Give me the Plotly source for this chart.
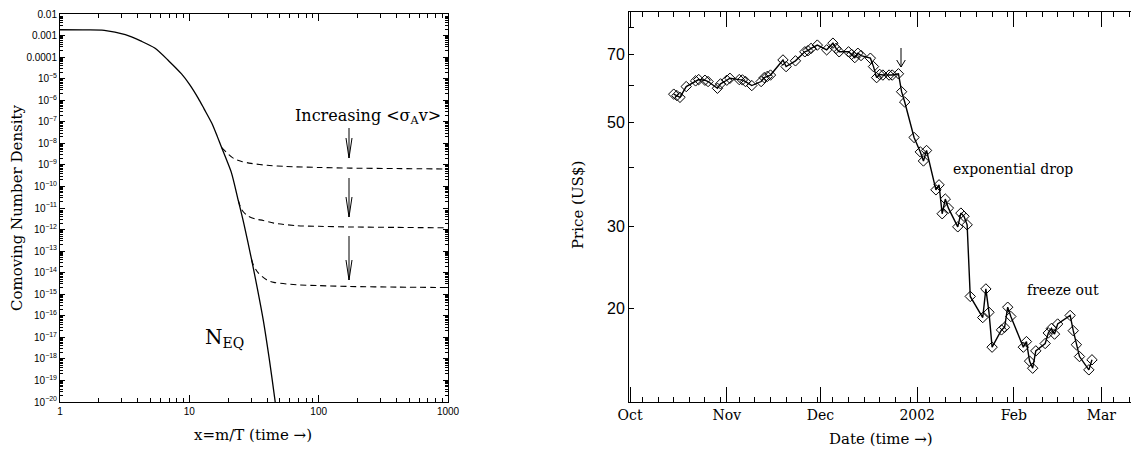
import plotly.graph_objects as go

W, H = 1131, 450

# ---------------- Left panel data (x = m/T, log10 of comoving number density) ----------------
x_neq = [1, 1.5, 2.2, 3.2, 4.2, 5.4, 7, 8.7, 10, 11.7, 13, 14.9, 16.5, 17.8, 19.5, 21.2,
         23.9, 26.5, 30.3, 33.5, 37.3, 41.5, 45.9, 47.5]
log_neq = [-2.73, -2.74, -2.76, -2.96, -3.25, -3.58, -4.2, -4.78, -5.25, -5.9, -6.4, -7.06,
           -7.7, -8.2, -8.8, -9.38, -10.65, -11.77, -13.4, -14.7, -16.2, -18.0, -19.9, -20.6]

x_fo1 = [17.8, 20, 22, 25.4, 30, 40, 54.8, 100, 175, 400, 1000]
log_fo1 = [-8.2, -8.5, -8.7, -8.84, -8.93, -9.02, -9.07, -9.12, -9.15, -9.17, -9.19]

x_fo2 = [23.9, 25.4, 28, 32, 37.3, 45, 67.5, 100, 174, 400, 1000]
log_fo2 = [-10.65, -11.08, -11.35, -11.5, -11.58, -11.7, -11.82, -11.85, -11.88, -11.9, -11.92]

x_fo3 = [30.3, 31.2, 34, 39.6, 45, 67.5, 100, 174, 400, 1000]
log_fo3 = [-13.4, -13.63, -14.0, -14.33, -14.45, -14.56, -14.6, -14.64, -14.67, -14.69]

left_xticks = [1, 10, 100, 1000]
left_xticktext = ["1", "10", "100", "1000"]
left_yexp = list(range(-2, -21, -1))

# ---------------- Right panel data (price in US$) ----------------
dates = ["2001-10-15", "2001-10-16", "2001-10-17", "2001-10-19", "2001-10-22", "2001-10-23",
         "2001-10-25", "2001-10-26", "2001-10-29", "2001-10-30", "2001-11-01", "2001-11-02",
         "2001-11-05", "2001-11-06", "2001-11-07", "2001-11-09", "2001-11-12", "2001-11-13",
         "2001-11-14", "2001-11-15", "2001-11-19", "2001-11-20", "2001-11-23", "2001-11-26",
         "2001-11-27", "2001-11-28", "2001-11-30", "2001-12-03", "2001-12-05", "2001-12-06",
         "2001-12-07", "2001-12-10", "2001-12-11", "2001-12-12", "2001-12-13", "2001-12-14",
         "2001-12-17", "2001-12-18", "2001-12-19", "2001-12-20", "2001-12-21", "2001-12-23",
         "2001-12-24", "2001-12-26", "2001-12-27", "2001-12-28", "2001-12-31", "2002-01-02",
         "2002-01-03", "2002-01-04", "2002-01-07", "2002-01-08", "2002-01-09", "2002-01-10",
         "2002-01-11", "2002-01-14", "2002-01-15", "2002-01-16", "2002-01-17", "2002-01-18",
         "2002-01-22", "2002-01-23", "2002-01-24", "2002-01-25", "2002-01-28", "2002-01-29",
         "2002-01-30", "2002-01-31", "2002-02-04", "2002-02-05", "2002-02-06", "2002-02-07",
         "2002-02-08", "2002-02-11", "2002-02-12", "2002-02-13", "2002-02-14", "2002-02-15",
         "2002-02-19", "2002-02-20", "2002-02-21", "2002-02-22", "2002-02-25", "2002-02-26"]
prices = [57.6, 57.2, 56.7, 59.8, 61.5, 61.9,
          61.7, 61.3, 59.3, 60.6, 61.7, 62.3,
          61.9, 61.8, 61.3, 60.1, 61.3, 62.5,
          62.9, 63.3, 68.2, 66.0, 67.9, 71.0,
          71.4, 72.2, 73.4, 71.7, 74.1, 72.2,
          71.0, 71.0, 70.1, 69.0, 70.5, 69.7,
          68.8, 66.0, 62.5, 63.5, 63.3, 63.3,
          63.3, 63.7, 58.3, 55.4, 46.5, 43.3,
          41.4, 43.6, 35.9, 36.8, 31.9, 34.3,
          32.8, 29.9, 32.0, 31.5, 30.2, 21.2,
          19.1, 22.0, 19.6, 16.5, 17.97, 18.2,
          20.1, 19.2, 16.5, 16.96, 15.4, 14.87,
          16.2, 16.8, 17.7, 18.1, 17.6, 18.5,
          19.3, 17.9, 16.7, 15.75, 14.75, 15.5]

month_ticks = ["2001-10-01", "2001-11-01", "2001-12-01", "2002-01-01", "2002-02-01", "2002-03-01"]
month_labels = ["Oct", "Nov", "Dec", "2002", "Feb", "Mar"]
price_ticks = [20, 30, 40, 50, 60, 70, 80]
price_labels = ["20", "30", "", "50", "", "70", ""]

# ---------------- helpers ----------------
def fx(p):
    return p / W


def fy(p):
    return 1 - p / H


SERIF = "DejaVu Serif"
SANS = "Liberation Sans"

fig = go.Figure()

fig.add_trace(go.Scatter(x=x_neq, y=[10 ** v for v in log_neq], mode="lines",
                         line=dict(color="black", width=1.3, shape="spline", smoothing=0.8),
                         xaxis="x", yaxis="y", showlegend=False, hoverinfo="skip"))
for xs, ls in [(x_fo1, log_fo1), (x_fo2, log_fo2), (x_fo3, log_fo3)]:
    fig.add_trace(go.Scatter(x=xs, y=[10 ** v for v in ls], mode="lines",
                             line=dict(color="black", width=1.1, dash="6px,4px",
                                       shape="spline", smoothing=0.8),
                             xaxis="x", yaxis="y", showlegend=False, hoverinfo="skip"))

fig.add_trace(go.Scatter(x=dates, y=prices, mode="lines+markers",
                         line=dict(color="black", width=1.4),
                         marker=dict(symbol="diamond-open", size=8, color="black",
                                     line=dict(width=1, color="black")),
                         xaxis="x2", yaxis="y2", showlegend=False))

# minor tick positions
left_xminor = [m * 10 ** k for k in range(0, 3) for m in range(2, 10)]
left_yminor = [m * 10.0 ** k for k in range(-20, -2) for m in range(2, 10)]
minor_dates = []
for ym in ["2001-10", "2001-11", "2001-12", "2002-01", "2002-02", "2002-03"]:
    for d in [5, 10, 15, 20, 25, 30]:
        if ym == "2002-02" and d == 30:
            continue
        minor_dates.append(f"{ym}-{d:02d}")

axis_common = dict(showgrid=False, zeroline=False, showline=True, linecolor="black",
                   linewidth=1, ticks="inside", tickcolor="black", automargin=False)

fig.update_layout(
    width=W, height=H, margin=dict(l=0, r=0, t=0, b=0, autoexpand=False),
    paper_bgcolor="white", plot_bgcolor="white",
    xaxis=dict(type="log", range=[0, 3], domain=[fx(60), fx(448)], anchor="y",
               tickmode="array", tickvals=left_xticks, ticktext=left_xticktext,
               ticklen=7, mirror="ticks",
               tickfont=dict(family=SANS, size=10, color="black"),
               minor=dict(tickmode="array", tickvals=left_xminor, ticks="inside",
                          ticklen=4, tickcolor="black"),
               **axis_common),
    yaxis=dict(type="log", range=[-20, -2], domain=[fy(402), fy(14)], anchor="x",
               tickmode="array", tickvals=[10.0 ** e for e in left_yexp],
               ticktext=["0.01", "0.001", "0.0001"] +
                        [f"10<sup>−{-e}</sup>" for e in left_yexp[3:]],
               ticklen=5, mirror="ticks",
               tickfont=dict(family=SANS, size=10, color="black"),
               minor=dict(tickmode="array", tickvals=left_yminor, ticks="inside",
                          ticklen=3, tickcolor="black"),
               **axis_common),
    xaxis2=dict(type="date", range=["2001-09-30 16:00", "2002-03-10 12:00"],
                domain=[fx(629), 1.0], anchor="y2",
                tickmode="array", tickvals=month_ticks, ticktext=month_labels,
                ticklen=15, mirror="ticks",
                tickfont=dict(family=SERIF, size=14, color="black"),
                minor=dict(tickmode="array", tickvals=minor_dates, ticks="inside",
                           ticklen=5, tickcolor="black"),
                **axis_common),
    yaxis2=dict(type="log", range=[1.0998, 1.9367], domain=[fy(402), fy(12)], anchor="x2",
                tickmode="array", tickvals=price_ticks, ticktext=price_labels,
                ticklen=5,
                tickfont=dict(family=SANS, size=16, color="black"),
                **axis_common),
)

annotations = [
    dict(text="Comoving Number Density", x=fx(17), y=fy(208), textangle=-90,
         font=dict(family=SERIF, size=15)),
    dict(text="x=m/T (time →)", x=fx(253), y=fy(435), font=dict(family=SERIF, size=15)),
    dict(text="Increasing &lt;σ<sub>A</sub>v&gt;", x=fx(368), y=fy(116),
         font=dict(family=SERIF, size=16)),
    dict(text="N<sub>EQ</sub>", x=fx(224), y=fy(338), font=dict(family=SERIF, size=20)),
    dict(text="Price (US$)", x=fx(578), y=fy(205), textangle=-90,
         font=dict(family=SERIF, size=15)),
    dict(text="Date (time →)", x=fx(881), y=fy(439), font=dict(family=SERIF, size=15)),
    dict(text="exponential drop", x=fx(1013), y=fy(169), font=dict(family=SERIF, size=14)),
    dict(text="freeze out", x=fx(1063), y=fy(290), font=dict(family=SERIF, size=14)),
]
for a in annotations:
    a.update(xref="paper", yref="paper", showarrow=False, xanchor="center", yanchor="middle")
    a["font"]["color"] = "black"
fig.update_layout(annotations=annotations)


def arrow(x, y0, y1, dx, dy, w=1):
    segs = [((x, y0), (x, y1)), ((x - dx, y1 - dy), (x, y1)), ((x + dx, y1 - dy), (x, y1))]
    return [dict(type="line", xref="paper", yref="paper",
                 x0=fx(a[0]), y0=fy(a[1]), x1=fx(b[0]), y1=fy(b[1]),
                 line=dict(color="black", width=w)) for a, b in segs]


shapes = []
shapes += arrow(349, 128, 158, 3, 20)
shapes += arrow(349, 178, 217, 3, 20)
shapes += arrow(349, 236, 280, 3, 20)
shapes += arrow(901, 48, 67, 4.3, 7)
fig.update_layout(shapes=shapes)

fig.write_html(
    "out.html",
    config={"displayModeBar": False},
    post_script="document.body.style.margin='0';document.body.style.overflow='hidden';",
)
